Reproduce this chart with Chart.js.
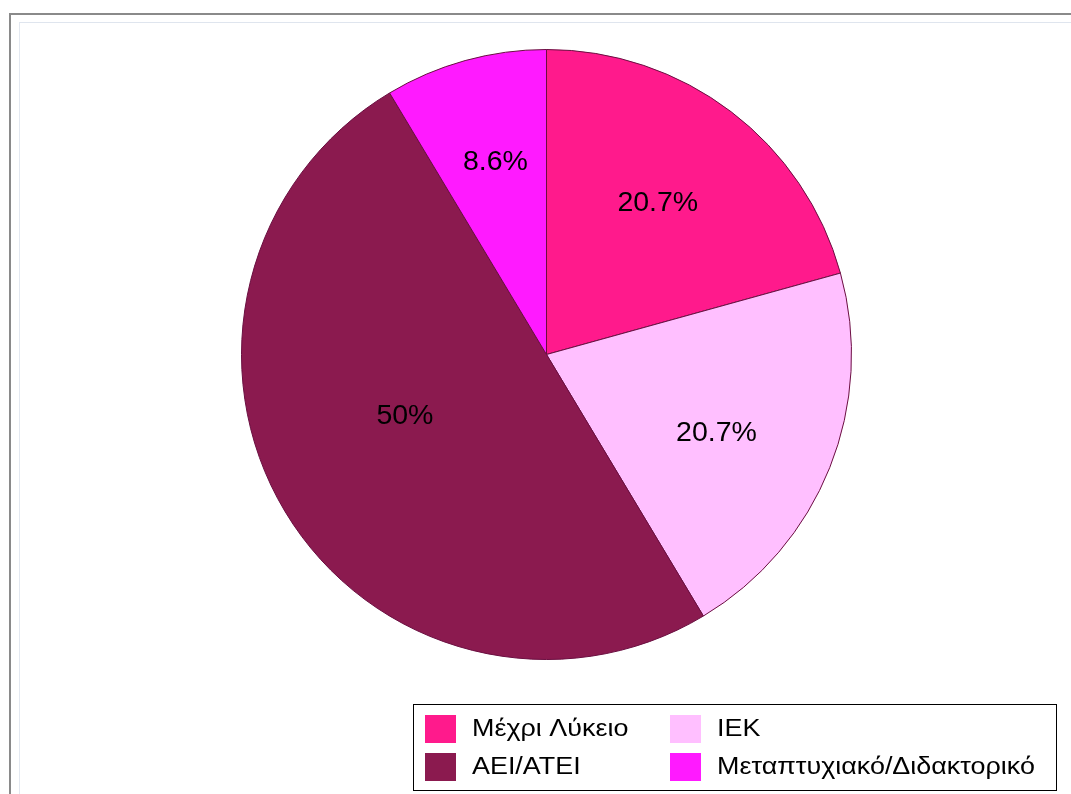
<!DOCTYPE html>
<html>
<head>
<meta charset="utf-8">
<script src="https://cdn.jsdelivr.net/npm/chart.js@4/dist/chart.umd.min.js"></script>
<style>
  html, body { margin: 0; padding: 0; background: #ffffff; }
  body { width: 1071px; height: 794px; position: relative; overflow: hidden; }
  #frame { position: absolute; left: 9px; top: 13px; right: -10px; bottom: -10px;
           border-left: 2px solid #8a8a8a; border-top: 2px solid #8a8a8a; }
  #inner { position: absolute; left: 19px; top: 22px; right: -10px; bottom: -10px;
           border-left: 1px solid #e3e8f0; border-top: 1px solid #dfe5ee; }
  #wrap { position: absolute; left: 0; top: 0; width: 1071px; height: 794px; }
</style>
</head>
<body>
<div id="frame"></div>
<div id="inner"></div>
<div id="wrap"><canvas id="c" width="1071" height="794"></canvas></div>
<script>
// ---- data ----
const categories = ["Μέχρι Λύκειο", "IEK", "AEI/ATEI", "Μεταπτυχιακό/Διδακτορικό"];
const percentages = [20.7, 20.7, 50, 8.6];
const sliceColors = ["#FF1A8C", "#FFBFFF", "#8B1A4F", "#FF1AFF"];
const labelTexts = percentages.map(v => v + "%");

// ---- label plugin (places percentage text inside each arc) ----
const sliceLabels = {
  id: 'sliceLabels',
  afterDatasetsDraw(chart, args, opts) {
    const ctx = chart.ctx;
    const meta = chart.getDatasetMeta(0);
    ctx.save();
    ctx.font = opts.font;
    ctx.fillStyle = opts.color;
    ctx.textAlign = 'center';
    ctx.textBaseline = 'middle';
    meta.data.forEach((arc, i) => {
      const p = arc.getProps(['x', 'y', 'startAngle', 'endAngle', 'outerRadius'], true);
      const mid = (p.startAngle + p.endAngle) / 2 + (opts.angleShift[i] || 0) * Math.PI / 180;
      const r = p.outerRadius * opts.radius[i];
      ctx.fillText(labelTexts[i], p.x + Math.cos(mid) * r, p.y + Math.sin(mid) * r);
    });
    ctx.restore();
  }
};

// ---- boxed two-column legend plugin ----
const boxLegend = {
  id: 'boxLegend',
  afterDraw(chart, args, o) {
    const ctx = chart.ctx;
    ctx.save();
    ctx.strokeStyle = '#000000';
    ctx.lineWidth = 1;
    ctx.strokeRect(o.x + 0.5, o.y + 0.5, o.w, o.h);
    ctx.font = o.font;
    ctx.textBaseline = 'middle';
    ctx.textAlign = 'left';
    categories.forEach((name, i) => {
      const col = i % 2, row = Math.floor(i / 2);
      const sx = o.x + o.padX + col * o.colW;
      const sy = o.y + o.padY + row * o.rowH;
      ctx.fillStyle = sliceColors[i];
      ctx.fillRect(sx, sy, o.swW, o.swH);
      ctx.fillStyle = '#000000';
      ctx.save();
      ctx.translate(sx + o.textGap, sy + o.swH / 2 + 1);
      ctx.scale(o.stretch, 1);
      ctx.fillText(name, 0, 0);
      ctx.restore();
    });
    ctx.restore();
  }
};

new Chart(document.getElementById('c'), {
  type: 'pie',
  data: {
    labels: categories,
    datasets: [{
      data: percentages,
      backgroundColor: sliceColors,
      borderColor: '#6a0e40',
      borderWidth: 1
    }]
  },
  options: {
    responsive: false,
    animation: false,
    events: [],
    layout: { padding: { left: 241, right: 219, top: 48, bottom: 133 } },
    plugins: {
      legend: { display: false },
      tooltip: { enabled: false },
      sliceLabels: {
        font: '28.5px "Liberation Sans", Arial, sans-serif',
        color: '#000000',
        radius: [0.617, 0.614, 0.506, 0.652],
        angleShift: [-1, 3, 7.5, 0.6]
      },
      boxLegend: {
        x: 413, y: 704, w: 643, h: 86,
        padX: 12, padY: 11, colW: 245, rowH: 38,
        swW: 31, swH: 28, textGap: 47, stretch: 1.17,
        font: '23px "Liberation Sans", Arial, sans-serif'
      }
    }
  },
  plugins: [sliceLabels, boxLegend]
});
</script>
</body>
</html>
